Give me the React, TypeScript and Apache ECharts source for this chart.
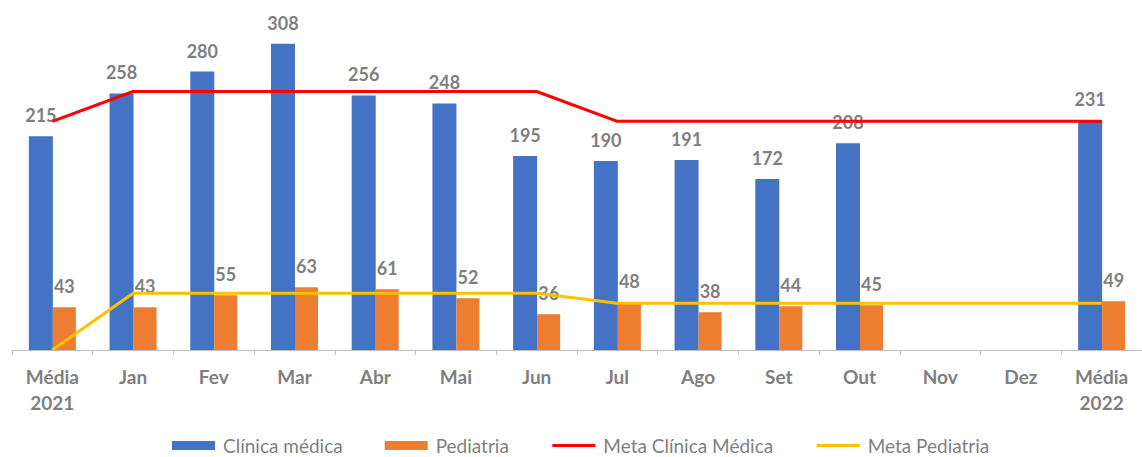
import React, { useEffect, useRef } from "react";
import * as echarts from "echarts";

const categories = ["Média\n2021", "Jan", "Fev", "Mar", "Abr", "Mai", "Jun", "Jul", "Ago", "Set", "Out", "Nov", "Dez", "Média\n2022"];
const clinicaMedica = [215, 258, 280, 308, 256, 248, 195, 190, 191, 172, 208, null, null, 231];
const pediatria = [43, 43, 55, 63, 61, 52, 36, 48, 38, 44, 45, null, null, 49];
const metaClinica = [230, 260, 260, 260, 260, 260, 260, 230, 230, 230, 230, 230, 230, 230];
const metaPediatria = [0, 57, 57, 57, 57, 57, 57, 47, 47, 47, 47, 47, 47, 47];

const FONT = "Lato";
const GRAY = "#7F7F7F";
const labelStyle = {
  show: true,
  position: "top" as const,
  distance: 12,
  color: GRAY,
  fontFamily: FONT,
  fontWeight: "bold" as const,
  fontSize: 18,
};

export default function App() {
  const ref = useRef<HTMLDivElement>(null);
  useEffect(() => {
    document.body.style.margin = "0";
    const chart = echarts.init(ref.current!, undefined, { renderer: "svg" });
    const hidden = { color: "transparent", borderColor: "transparent", borderWidth: 0 };
    chart.setOption({
      animation: false,
      backgroundColor: "#ffffff",
      textStyle: { fontFamily: FONT },
      grid: { left: 12, top: 2, width: 1140, height: 348, containLabel: false },
      legend: {
        left: 172,
        top: 436,
        padding: 0,
        itemWidth: 43,
        itemHeight: 9,
        itemGap: 42,
        textStyle: { color: GRAY, fontSize: 19, lineHeight: 18, fontFamily: FONT, padding: [0, 0, 0, 3] },
        data: [
          { name: "Clínica médica", icon: "rect" },
          { name: "Pediatria", icon: "rect" },
          { name: "Meta Clínica Médica", itemStyle: hidden, lineStyle: { width: 3 } },
          { name: "Meta Pediatria", itemStyle: hidden, lineStyle: { width: 3 } },
        ],
      },
      xAxis: {
        type: "category",
        data: categories,
        boundaryGap: true,
        axisLine: { show: true, lineStyle: { color: "#BFBFBF", width: 1 } },
        axisTick: { show: true, interval: 0, length: 5, lineStyle: { color: "#BFBFBF" } },
        axisLabel: {
          interval: 0,
          color: GRAY,
          fontSize: 19,
          fontWeight: "bold",
          fontFamily: FONT,
          lineHeight: 26,
          margin: 13,
        },
      },
      yAxis: {
        type: "value",
        min: 0,
        max: 350,
        show: false,
        splitLine: { show: false },
      },
      series: [
        {
          name: "Clínica médica",
          type: "bar",
          data: clinicaMedica,
          barWidth: 24,
          barGap: "0%",
          itemStyle: { color: "#4472C4" },
          label: labelStyle,
          z: 2,
        },
        {
          name: "Pediatria",
          type: "bar",
          data: pediatria,
          barWidth: 23,
          barGap: "0%",
          itemStyle: { color: "#ED7D31" },
          label: labelStyle,
          z: 2,
        },
        {
          name: "Meta Clínica Médica",
          type: "line",
          data: metaClinica,
          symbol: "none",
          lineStyle: { color: "#FF0000", width: 3 },
          itemStyle: { color: "#FF0000" },
          z: 3,
        },
        {
          name: "Meta Pediatria",
          type: "line",
          data: metaPediatria,
          symbol: "none",
          lineStyle: { color: "#FFC000", width: 3 },
          itemStyle: { color: "#FFC000" },
          z: 3,
        },
      ],
    });
    return () => chart.dispose();
  }, []);
  return <div ref={ref} style={{ width: 1142, height: 457 }} />;
}
